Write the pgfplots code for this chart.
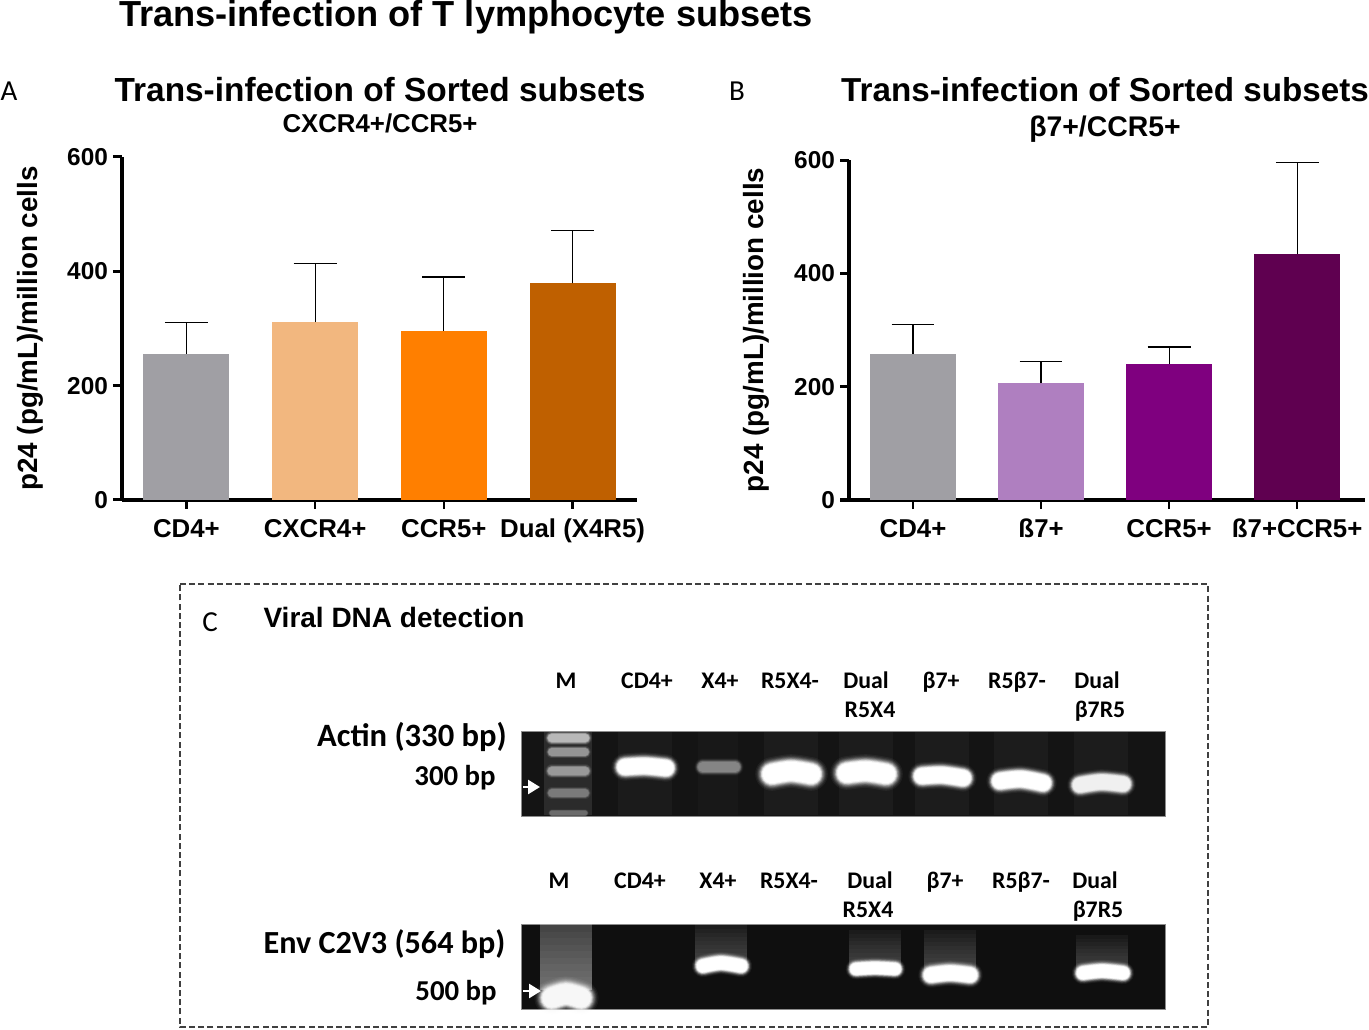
\documentclass[border=0pt]{standalone}
\usepackage{fontspec}
\setmainfont{Liberation Sans}
\newfontfamily\carl{Carlito}
\usepackage{pgfplots}
\pgfplotsset{compat=1.18}
\usetikzlibrary{arrows.meta}
\definecolor{cgray}{HTML}{A09FA4}
\definecolor{cpeach}{HTML}{F2B77F}
\definecolor{corange}{HTML}{FF7F00}
\definecolor{cbrown}{HTML}{BF6000}
\definecolor{clilac}{HTML}{AF7FC0}
\definecolor{cpurple}{HTML}{7F007F}
\definecolor{cplum}{HTML}{5F0050}

% glowing gel band: colour, coordinates, thickness in px
\newcommand{\band}[3]{%
  \addplot[#1,opacity=.05,line cap=round,smooth,line width=#3*.80pt] coordinates {#2};
  \addplot[#1,opacity=.07,line cap=round,smooth,line width=#3*.74pt] coordinates {#2};
  \addplot[#1,opacity=.10,line cap=round,smooth,line width=#3*.69pt] coordinates {#2};
  \addplot[#1,opacity=.14,line cap=round,smooth,line width=#3*.65pt] coordinates {#2};
  \addplot[#1,opacity=.20,line cap=round,smooth,line width=#3*.61pt] coordinates {#2};
  \addplot[#1,opacity=.30,line cap=round,smooth,line width=#3*.57pt] coordinates {#2};
  \addplot[#1,opacity=.45,line cap=round,smooth,line width=#3*.53pt] coordinates {#2};
  \addplot[#1,opacity=.70,line cap=round,smooth,line width=#3*.49pt] coordinates {#2};
  \addplot[#1,line cap=round,smooth,line width=#3*.44pt] coordinates {#2};
}
% faint lane column
\newcommand{\lane}[4]{%
  \addplot[white,opacity=#4,line width=#1pt] coordinates {(#2) (#3)};
}
% smear above a band, brightening downwards: x, top, bottom, width in pt, step opacity
\newcommand{\smear}[5]{%
  \pgfplotsinvokeforeach{0,1,2,3,4,5,6,7,8,9}{
    \pgfmathsetmacro\ys{#2+(#3-#2)*##1/10}
    \addplot[white,opacity=#5,line width=#4pt] coordinates {(#1,\ys) (#1,#3)};
  }
}
\newcommand{\barplot}[3]{%
  \addplot[ybar,bar width=43pt,bar shift=0pt,fill=#1,draw=none,
    error bars/.cd,y dir=plus,y explicit,
    error bar style={black,line width=.6pt},
    error mark options={rotate=90,black,line width=.6pt,mark size=10.7pt}]
    coordinates {(#2) +- (#3)};
}

\pgfplotsset{
  panel/.style={
    scale only axis,anchor=south west,
    ymin=0,ymax=600,
    axis x line*=bottom,axis y line*=left,
    axis line style={black,line width=1.6pt,-},
    xtick={0,1,2,3},ytick={0,200,400,600},
    tick align=outside,major tick length=4.5pt,
    x tick style={black,line width=1.2pt},
    y tick style={black,line width=1.5pt},
    /pgf/number format/assume math mode=true,
    yticklabel style={font=\fontsize{12.2}{14}\bfseries,xshift=1pt},
    xticklabel style={font=\fontsize{12.9}{14}\bfseries,yshift=-1.5pt},
    ylabel style={font=\fontsize{13.9}{15}\bfseries},
  },
}

\begin{document}
\begin{tikzpicture}
\path[use as bounding box] (0,0) rectangle (684.5pt,514.5pt);

% page layer in pixel coordinates: gels, frame and headings
\begin{axis}[
  at={(0,0)},anchor=south west,scale only axis,width=684.5pt,height=514.5pt,
  xmin=0,xmax=1369,ymin=0,ymax=1029,y dir=reverse,hide axis,clip=false,
  every node/.style={inner sep=0pt,text=black},
]
\addplot[black!75,line width=.7pt,dash pattern=on 3pt off 1.6pt]
  coordinates {(180,584) (1208,584) (1208,1027) (180,1027) (180,584)};

% Actin gel
\addplot[fill=black!92,draw=black!45,line width=.4pt]
  coordinates {(521,731.5) (1165,731.5) (1165,816) (521,816)} -- cycle;
\lane{24}{568,732}{568,815}{.10}
\lane{27}{645,732}{645,815}{.03}
\lane{20}{718,732}{718,815}{.02}
\lane{27}{791,732}{791,815}{.035}
\lane{27}{866,732}{866,815}{.035}
\lane{27}{942,732}{942,815}{.035}
\lane{27}{1021,732}{1021,815}{.035}
\lane{27}{1101,732}{1101,815}{.035}
\band{black!28}{(552,738) (585,738)}{9}
\band{black!42}{(552,752) (585,752)}{8}
\band{black!40}{(552,771) (585,771)}{9}
\band{black!52}{(552,793) (585,793)}{8}
\band{black!58}{(552,813) (585,813)}{5}
\band{white}{(625,767) (645,766) (666,768)}{17}
\band{black!48}{(703,767) (718,767) (735,767)}{11}
\band{white}{(772,774) (791,771) (811,774)}{21}
\band{white}{(847,773) (866,771) (886,774)}{21}
\band{white}{(922,776) (942,775) (963,778)}{17}
\band{white}{(1000,781) (1021,779) (1043,783)}{17}
\band{black!6}{(1080,785) (1101,782) (1123,784)}{16}
\addplot[white,line width=1.3pt,-{Triangle[width=7pt,length=6pt]}]
  coordinates {(523,787) (540,787)};

% Env gel
\addplot[fill=black!94,draw=black!45,line width=.4pt]
  coordinates {(521,924) (1165,924) (1165,1009) (521,1009)} -- cycle;
\lane{26}{566,924}{566,990}{.20}
\smear{566}{925}{990}{26}{.032}
\lane{26}{721,924}{721,965}{.04}
\smear{721}{925}{965}{26}{.022}
\lane{26}{875,930}{875,968}{.03}
\smear{875}{930}{968}{26}{.022}
\lane{26}{950,930}{950,970}{.03}
\smear{950}{930}{970}{26}{.022}
\lane{26}{1102,935}{1102,970}{.025}
\smear{1102}{935}{970}{26}{.022}
\band{black!3}{(552,998) (566,994) (581,998)}{22}
\band{white}{(703,966) (721,963) (741,966)}{14}
\band{white}{(856,969) (875,968) (895,969)}{13}
\band{white}{(931,975) (950,973) (970,975)}{16}
\band{white}{(1083,973) (1102,971) (1123,973)}{14}
\addplot[white,line width=1.3pt,-{Triangle[width=7pt,length=6pt]}]
  coordinates {(523,991) (541,991)};

% headings
\node[anchor=center,font=\fontsize{18.1}{20}\bfseries] at (axis cs:466,17) {Trans-infection of T lymphocyte subsets};
\node[anchor=center,font=\fontsize{16.7}{20}\bfseries] at (axis cs:380,90) {Trans-infection of Sorted subsets};
\node[anchor=center,font=\fontsize{16.6}{20}\bfseries] at (axis cs:1105,90) {Trans-infection of Sorted subsets};
\node[anchor=center,font=\fontsize{12.9}{14}\bfseries] at (axis cs:380,123) {CXCR4+/CCR5+};
\node[anchor=center,font=\fontsize{14.2}{15}\bfseries] at (axis cs:1105,129) {β7+/CCR5+};
\node[anchor=center,font=\fontsize{14.5}{16}\carl] at (axis cs:9,91) {A};
\node[anchor=center,font=\fontsize{14.5}{16}\carl] at (axis cs:737,91) {B};
\node[anchor=center,font=\fontsize{14.5}{16}\carl] at (axis cs:210,622) {C};
\node[anchor=center,font=\fontsize{14}{16}\bfseries] at (axis cs:394,617) {Viral DNA detection};

% gel labels
\node[anchor=center,font=\fontsize{16.3}{17}\carl\bfseries] at (axis cs:412,737) {Actin (330 bp)};
\node[anchor=center,font=\fontsize{14.4}{15}\carl\bfseries] at (axis cs:455,778) {300 bp};
\node[anchor=center,font=\fontsize{16.1}{17}\carl\bfseries] at (axis cs:384.5,944) {Env C2V3 (564 bp)};
\node[anchor=center,font=\fontsize{14.4}{15}\carl\bfseries] at (axis cs:456,993) {500 bp};
\foreach \lx/\ly/\lt in {566/688/M,647/688/CD4+,720/688/X4+,790/688/R5X4-,866/688/Dual,870/717/R5X4,941/688/β7+,1017/688/R5β7-,1097/688/Dual,1100/717/β7R5,
  559/888/M,640/888/CD4+,718/888/X4+,789/888/R5X4-,870/888/Dual,868/917/R5X4,945/888/β7+,1021/888/R5β7-,1095/888/Dual,1098/917/β7R5}{
  \edef\temp{\noexpand\node[anchor=base,font=\noexpand\fontsize{11.9}{13}\noexpand\carl\noexpand\bfseries] at (axis cs:\lx,\ly) {\lt};}
  \temp
}
\end{axis}

% panel A
\begin{axis}[panel,at={(61pt,264.5pt)},width=257.5pt,height=171.5pt,
  xmin=-0.5,xmax=3.5,
  xticklabels={CD4+,CXCR4+,CCR5+,Dual (X4R5)},
  ylabel={p24 (pg/mL)/million cells},ylabel shift=5pt]
\barplot{cgray}{0,256}{0,54}
\barplot{cpeach}{1,311}{0,103}
\barplot{corange}{2,296}{0,94}
\barplot{cbrown}{3,379}{0,92}
\end{axis}

% panel B
\begin{axis}[panel,at={(424.5pt,264.5pt)},width=258pt,height=170pt,
  xmin=-0.5,xmax=3.53,
  xticklabels={CD4+,ß7+,CCR5+,ß7+CCR5+},
  ylabel={p24 (pg/mL)/million cells},ylabel shift=5.5pt]
\barplot{cgray}{0,257}{0,53}
\barplot{clilac}{1,206}{0,39}
\barplot{cpurple}{2,240}{0,30}
\barplot{cplum}{3,434}{0,162}
\end{axis}
\end{tikzpicture}
\end{document}
